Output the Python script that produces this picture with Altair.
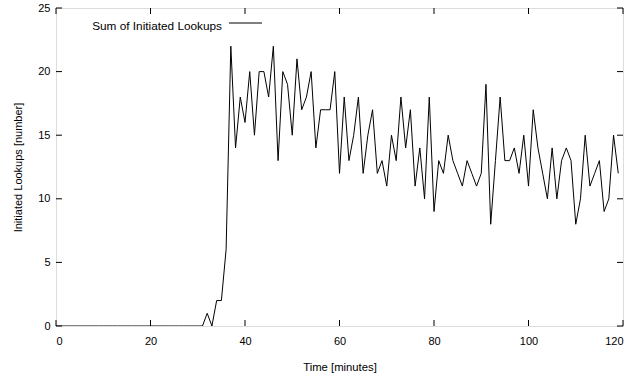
import altair as alt
import pandas as pd

minutes = list(range(0, 120))
lookups = [
    0, 0, 0, 0, 0, 0, 0, 0, 0, 0,
    0, 0, 0, 0, 0, 0, 0, 0, 0, 0,
    0, 0, 0, 0, 0, 0, 0, 0, 0, 0,
    0, 0, 1, 0, 2, 2, 6, 22, 14, 18,
    16, 20, 15, 20, 20, 18, 22, 13, 20, 19,
    15, 21, 17, 18, 20, 14, 17, 17, 17, 20,
    12, 18, 13, 15, 18, 12, 15, 17, 12, 13,
    11, 15, 13, 18, 14, 17, 11, 14, 10, 18,
    9, 13, 12, 15, 13, 12, 11, 13, 12, 11,
    12, 19, 8, 13, 18, 13, 13, 14, 12, 15,
    11, 17, 14, 12, 10, 14, 10, 13, 14, 13,
    8, 10, 15, 11, 12, 13, 9, 10, 15, 12,
]
x_ticks = [0, 20, 40, 60, 80, 100, 120]
y_ticks = [0, 5, 10, 15, 20, 25]
series_name = "Sum of Initiated Lookups"

W, H = 567, 318
FONT = "Liberation Sans"

df = pd.DataFrame({"minute": minutes, "lookups": lookups})
xt = pd.DataFrame({"t": x_ticks})
yt = pd.DataFrame({"t": y_ticks})

xscale = alt.Scale(domain=[0, 120], nice=False, zero=False)
yscale = alt.Scale(domain=[0, 25], nice=False)

line = alt.Chart(df).mark_line(color="black", strokeWidth=1, clip=True).encode(
    x=alt.X("minute:Q", scale=xscale,
            axis=alt.Axis(values=x_ticks, title="Time [minutes]", ticks=False, tickSize=0,
                          grid=False, domain=False, labelPadding=9, titlePadding=15,
                          labelFont=FONT, titleFont=FONT, labelFontSize=11, titleFontSize=11.3,
                          titleFontWeight="normal", labelColor="black", titleColor="black")),
    y=alt.Y("lookups:Q", scale=yscale,
            axis=alt.Axis(values=y_ticks, title="Initiated Lookups [number]", ticks=False, tickSize=0,
                          grid=False, domain=False, labelPadding=6, titlePadding=14,
                          labelFont=FONT, titleFont=FONT, labelFontSize=11, titleFontSize=11,
                          titleFontWeight="normal", labelColor="black", titleColor="black")),
)

bx = alt.Chart(xt).mark_rule(color="black", strokeWidth=1).encode(
    x=alt.X("t:Q", scale=xscale), y=alt.value(H), y2=alt.value(H - 6))
tx = alt.Chart(xt).mark_rule(color="black", strokeWidth=1).encode(
    x=alt.X("t:Q", scale=xscale), y=alt.value(0), y2=alt.value(6))
ly = alt.Chart(yt).mark_rule(color="black", strokeWidth=1).encode(
    y=alt.Y("t:Q", scale=yscale), x=alt.value(0), x2=alt.value(6))
ry = alt.Chart(yt).mark_rule(color="black", strokeWidth=1).encode(
    y=alt.Y("t:Q", scale=yscale), x=alt.value(W), x2=alt.value(W - 6))

leg_text = alt.Chart(pd.DataFrame({"name": [series_name]})).mark_text(
    align="right", baseline="middle", font=FONT, fontSize=11.8, color="black"
).encode(text="name:N", x=alt.value(166), y=alt.value(18))
leg_line = alt.Chart(pd.DataFrame({"name": [series_name]})).mark_rule(
    color="black", strokeWidth=1
).encode(x=alt.value(173), x2=alt.value(206), y=alt.value(15))

chart = alt.layer(line, bx, tx, ly, ry, leg_text, leg_line).properties(
    width=W, height=H,
    autosize=alt.AutoSizeParams(type="none"),
    padding={"left": 56, "top": 8, "right": 11, "bottom": 58},
).configure_view(stroke="black", strokeWidth=1.2).configure(background="white")

chart.save("out.html", embed_options={"renderer": "svg", "actions": False})
